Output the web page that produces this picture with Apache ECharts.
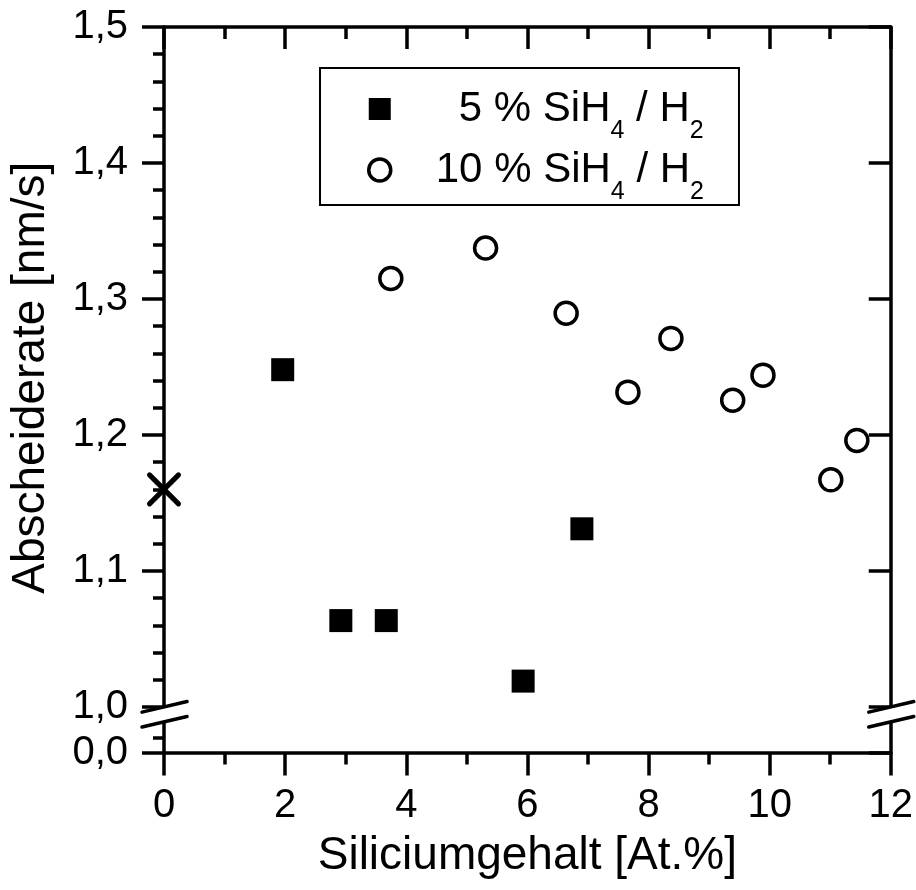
<!DOCTYPE html>
<html><head><meta charset="utf-8">
<script src="https://cdn.jsdelivr.net/npm/echarts@6/dist/echarts.min.js"></script>
<style>html,body{margin:0;padding:0;background:#fff}#c{width:916px;height:890px}</style>
</head><body><div id="c"></div>
<script>
// ---- data ----
const seriesNames = ['5 % SiH4 / H2', '10 % SiH4 / H2'];
const legendNumbers = ['5', '10'];
const x5 = [1.96, 2.92, 3.67, 5.93, 6.90];
const y5 = [1.248, 1.0635, 1.0635, 1.019, 1.131];
const x10 = [3.745, 5.31, 6.64, 7.66, 8.37, 9.39, 9.89, 11.01, 11.44];
const y10 = [1.315, 1.3375, 1.2895, 1.2315, 1.271, 1.2255, 1.244, 1.167, 1.196];
const xRef = [0];
const yRef = [1.16];
const xTitle = 'Siliciumgehalt [At.%]';
const yTitle = 'Abscheiderate [nm/s]';
const X_MIN = 0, X_MAX = 12, X_INTERVAL = 2;
// broken y axis: upper segment 1.0..1.5, the "0,0" label sits below the break
const Y_MIN = 0.9665, Y_MAX = 1.5;
const yMajorTicks = [Y_MIN, 1.0, 1.1, 1.2, 1.3, 1.4, 1.5];
const yMinorTicks = [0.9775, 1.02, 1.04, 1.06, 1.08, 1.12, 1.14, 1.16, 1.18, 1.22, 1.24, 1.26, 1.28,
                     1.32, 1.34, 1.36, 1.38, 1.42, 1.44, 1.46, 1.48];
const BREAK_TOP = 1.0, BREAK_BOTTOM = 0.989;

const FONT = '"Liberation Sans", Arial, Helvetica, sans-serif';
const BLACK = '#000000';
const LW = 3.5;
const zip = (a, b) => a.map((v, i) => [v, b[i]]);
const yLabelFmt = v => (v < 0.99 ? '0,0' : v.toFixed(1).replace('.', ','));

const LEG_FS = 42, LEG_SUB = 25, LEG_LH = 70;
const measure = (txt, fs) => {
  const c = document.createElement('canvas').getContext('2d');
  c.font = fs + 'px ' + FONT;
  return c.measureText(txt).width;
};
const widest = Math.max(...legendNumbers.map(n => measure(n, LEG_FS)));
const numPad = n => Math.round(40 + widest - measure(n, LEG_FS));

const mkAxisLine = () => ({ show: true, onZero: false, lineStyle: { color: BLACK, width: LW, opacity: 1 } });
const mkTick = () => ({ color: BLACK, width: LW, opacity: 1 });

const chart = echarts.init(document.getElementById('c'), null, { renderer: 'canvas' });

const legendRich = {
  t: { color: BLACK, fontFamily: FONT, fontSize: LEG_FS, lineHeight: LEG_LH },
  sub: { color: BLACK, fontFamily: FONT, fontSize: LEG_SUB, lineHeight: 10, verticalAlign: 'bottom' }
};
legendNumbers.forEach((n, i) => {
  legendRich['n' + i] = { color: BLACK, fontFamily: FONT, fontSize: LEG_FS, lineHeight: LEG_LH,
                          padding: [0, 0, 0, numPad(n)] };
});

const option = {
  animation: false,
  backgroundColor: '#fff',
  grid: { left: 163.5, right: 23.5, top: 27, bottom: 137.5, containLabel: false },
  xAxis: [
    {
      type: 'value', position: 'bottom', min: X_MIN, max: X_MAX, interval: X_INTERVAL,
      axisLine: mkAxisLine(),
      axisTick: { show: true, inside: false, length: 23, lineStyle: mkTick() },
      minorTick: { show: true, splitNumber: 2, length: 12, lineStyle: mkTick() },
      axisLabel: { color: BLACK, fontFamily: FONT, fontSize: 40, margin: 33 },
      splitLine: { show: false }, minorSplitLine: { show: false },
      name: xTitle, nameLocation: 'middle', nameGap: 81,
      nameTextStyle: { color: BLACK, fontFamily: FONT, fontSize: 46 }
    },
    {
      type: 'value', position: 'top', min: X_MIN, max: X_MAX, interval: X_INTERVAL,
      axisLine: mkAxisLine(),
      axisTick: { show: true, inside: true, length: 22, lineStyle: mkTick() },
      minorTick: { show: true, splitNumber: 2, length: 12, lineStyle: mkTick() },
      axisLabel: { show: false },
      splitLine: { show: false }, minorSplitLine: { show: false }
    }
  ],
  yAxis: [
    {
      type: 'value', position: 'left', min: Y_MIN, max: Y_MAX,
      axisLine: mkAxisLine(),
      axisTick: { show: true, inside: false, length: 22, lineStyle: mkTick(), customValues: yMajorTicks },
      axisLabel: { color: BLACK, fontFamily: FONT, fontSize: 40, margin: 36,
                   customValues: yMajorTicks, formatter: yLabelFmt },
      splitLine: { show: false },
      name: yTitle, nameLocation: 'middle', nameGap: 110, nameRotate: 90,
      nameTextStyle: { color: BLACK, fontFamily: FONT, fontSize: 46, padding: [0, 0, 0, 24] }
    },
    {
      type: 'value', position: 'left', min: Y_MIN, max: Y_MAX,
      axisLine: { show: false },
      axisTick: { show: true, inside: false, length: 11, lineStyle: mkTick(), customValues: yMinorTicks },
      axisLabel: { show: false }, splitLine: { show: false }
    },
    {
      type: 'value', position: 'right', min: Y_MIN, max: Y_MAX,
      axisLine: mkAxisLine(),
      axisTick: { show: true, inside: true, length: 22, lineStyle: mkTick(), customValues: yMajorTicks },
      axisLabel: { show: false }, splitLine: { show: false }
    },
    {
      type: 'value', position: 'right', min: Y_MIN, max: Y_MAX,
      axisLine: { show: false },
      axisTick: { show: true, inside: true, length: 11, lineStyle: mkTick(), customValues: yMinorTicks },
      axisLabel: { show: false }, splitLine: { show: false }
    }
  ],
  legend: {
    data: [
      { name: seriesNames[0], icon: 'rect', itemStyle: { color: BLACK, borderWidth: 0, opacity: 1 } },
      { name: seriesNames[1], icon: 'circle', itemStyle: { color: '#fff', borderColor: BLACK, borderWidth: 3.5, opacity: 1 } }
    ],
    orient: 'vertical', left: 320, top: 68,
    padding: [20, 35, 0, 47], itemGap: 5, itemWidth: 22, itemHeight: 22,
    borderColor: BLACK, borderWidth: 2, backgroundColor: '#fff',
    selectedMode: false,
    formatter: name => {
      const i = seriesNames.indexOf(name);
      return '{n' + i + '|' + legendNumbers[i] + '}{t| % SiH}{sub|4}{t| / H}{sub|2}';
    },
    textStyle: { color: BLACK, fontFamily: FONT, fontSize: LEG_FS, rich: legendRich }
  },
  series: [
    {
      name: seriesNames[0], type: 'scatter', xAxisIndex: 0, yAxisIndex: 0,
      symbol: 'rect', symbolSize: 23,
      itemStyle: { color: BLACK, opacity: 1 },
      emphasis: { disabled: true },
      data: zip(x5, y5), z: 5
    },
    {
      name: seriesNames[1], type: 'scatter', xAxisIndex: 0, yAxisIndex: 0,
      symbol: 'circle', symbolSize: 22,
      itemStyle: { color: '#fff', borderColor: BLACK, borderWidth: 3.5, opacity: 1 },
      emphasis: { disabled: true },
      data: zip(x10, y10), z: 5
    },
    {
      name: 'ref', type: 'scatter', xAxisIndex: 0, yAxisIndex: 0,
      symbol: 'path://M0,0L10,10M10,0L0,10', symbolSize: 29,
      itemStyle: { color: 'rgba(0,0,0,0)', borderColor: BLACK, borderWidth: 5, borderCap: 'round', opacity: 1 },
      emphasis: { disabled: true },
      data: zip(xRef, yRef), z: 6
    }
  ]
};
chart.setOption(option);

// axis-break marks on left and right y axes
function breakMarks() {
  const xs = [chart.convertToPixel({ xAxisIndex: 0 }, X_MIN), chart.convertToPixel({ xAxisIndex: 0 }, X_MAX)];
  const yA = chart.convertToPixel({ yAxisIndex: 0 }, BREAK_TOP);
  const yB = chart.convertToPixel({ yAxisIndex: 0 }, BREAK_BOTTOM);
  const dl = 22, dr = 23, k = 0.235;
  const els = [];
  xs.forEach(x => {
    const p1 = [x - dl, yA + dl * k], p2 = [x + dr, yA - dr * k];
    const p3 = [x + dr, yB - dr * k], p4 = [x - dl, yB + dl * k];
    els.push({ type: 'polygon', z: 100, shape: { points: [[x - dl, yA + dl * k + 1], [x + dr, yA - dr * k + 1], [x + dr, yB - dr * k - 1], [x - dl, yB + dl * k - 1]] },
               style: { fill: '#fff' } });
    els.push({ type: 'line', z: 101, shape: { x1: p1[0], y1: p1[1], x2: p2[0], y2: p2[1] },
               style: { stroke: BLACK, lineWidth: 3.5, lineCap: 'round' } });
    els.push({ type: 'line', z: 101, shape: { x1: p4[0], y1: p4[1], x2: p3[0], y2: p3[1] },
               style: { stroke: BLACK, lineWidth: 3.5, lineCap: 'round' } });
  });
  chart.setOption({ graphic: { elements: els } });
}
breakMarks();
</script>
</body></html>
